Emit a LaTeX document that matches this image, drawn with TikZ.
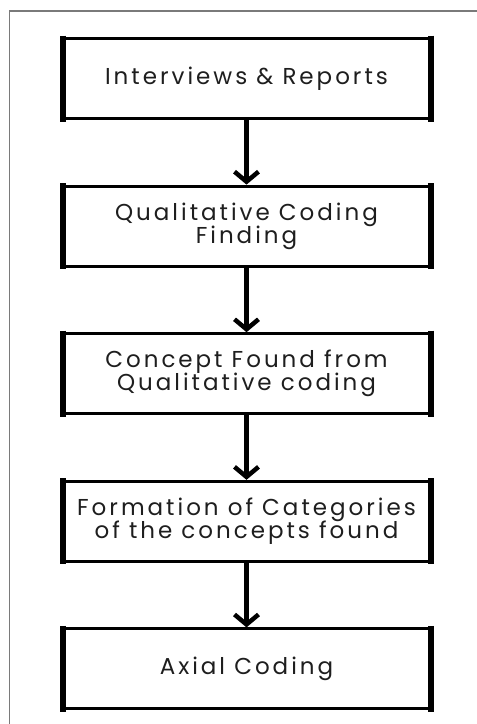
\documentclass[tikz,border=0pt]{standalone}
\usepackage{fontspec}
\setmainfont{Poppins}[LetterSpace=13]
\usetikzlibrary{arrows.meta}
\definecolor{txt}{HTML}{1E1E1E}
\definecolor{frame}{HTML}{7A7A7A}
\newcommand\myboxfont{\fontsize{23}{23}\selectfont\setlength{\lineskiplimit}{-20pt}}
\tikzset{
  stepbox/.style={draw=black, line width=3pt, minimum width=365pt, minimum height=80pt,
    inner sep=0pt, align=center, text=txt, font=\myboxfont},
  flowarrow/.style={line width=4.5pt, -{Straight Barb[length=10pt,width=24pt]}},
  sideline/.style={line width=6pt}
}
\begin{document}
\begin{tikzpicture}[x=1pt,y=1pt]
\useasboundingbox (0,0) rectangle (477,-724);
\fill[white] (0,0) rectangle (477,-724);
\coordinate (ftop) at (477,-11);
\coordinate (fcorner) at (9.5,-11);
\coordinate (fbot) at (9.5,-724);
\draw[frame, line width=1.2pt] (ftop) -- (fcorner) -- (fbot);
\node[stepbox] (b1) at (246.5,-78.5) {Interviews \& Reports};
\node[stepbox] (b2) at (246.5,-226.1) {Qualitative Coding\\Finding};
\node[stepbox] (b3) at (246.5,-373.7) {Concept Found from\\Qualitative coding};
\node[stepbox] (b4) at (246.5,-521.3) {Formation of Categories\\of the concepts found};
\node[stepbox] (b5) at (246.5,-668.9) {Axial Coding};
\foreach \b in {b1,b2,b3,b4,b5}{
  \draw[sideline] ([yshift=1.5pt]\b.north west) -- ([yshift=-1.5pt]\b.south west);
  \draw[sideline] ([yshift=1.5pt]\b.north east) -- ([yshift=-1.5pt]\b.south east);
}
\draw[flowarrow] (b1.south) -- (b2.north);
\draw[flowarrow] (b2.south) -- (b3.north);
\draw[flowarrow] (b3.south) -- (b4.north);
\draw[flowarrow] (b4.south) -- (b5.north);
\end{tikzpicture}
\end{document}
